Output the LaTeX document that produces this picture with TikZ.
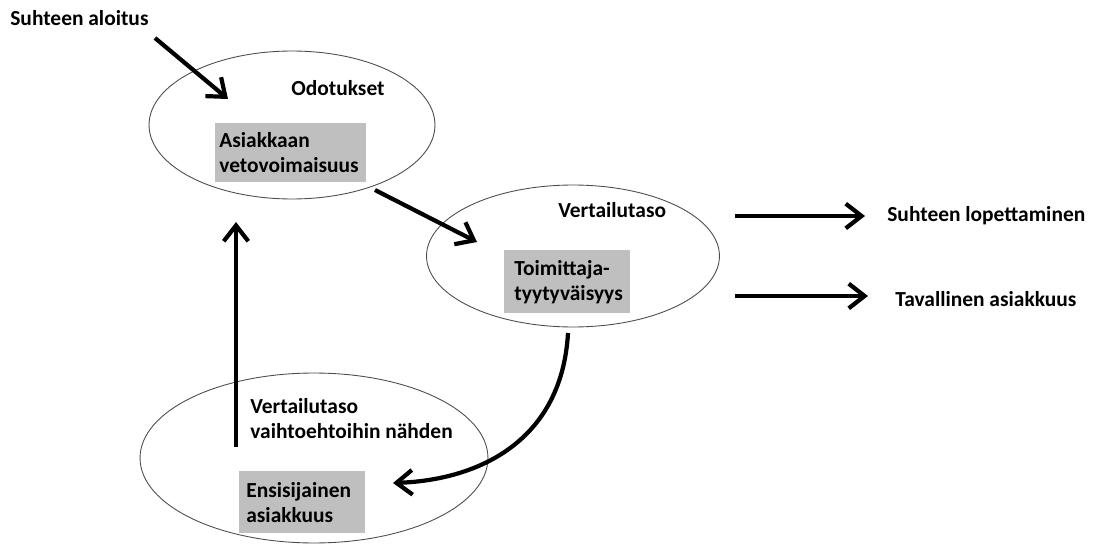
\documentclass[tikz,border=0pt]{standalone}
\usepackage{fontspec}
\setmainfont{Carlito}
\usetikzlibrary{shapes.geometric, arrows.meta}

\begin{document}
\begin{tikzpicture}[x=0.02cm, y=-0.02cm,
    every node/.style={font=\fontsize{12.2}{14.2}\selectfont\bfseries},
    oval/.style={draw=black!70, ellipse, line width=0.5pt, inner sep=0pt},
    greybox/.style={fill=black!25, align=left, anchor=north west, inner ysep=0pt},
    lbl/.style={anchor=west, inner sep=0pt, align=left},
    fat arrow/.style={line width=2.4pt,
        -{Straight Barb[length=9pt, width=14pt, line width=2.4pt]}}
  ]
  \useasboundingbox (0,0) rectangle (1093,544);

  % ovals
  \node[oval, minimum width=5.72cm, minimum height=2.96cm] (odotus) at (292,125) {};
  \node[oval, minimum width=5.86cm, minimum height=2.84cm] (vertailu) at (573,256) {};
  \node[oval, minimum width=6.96cm, minimum height=3.4cm] (vaihto) at (314,458) {};

  % grey boxes
  \node[greybox, inner xsep=0.08cm, text width=2.86cm, minimum height=1.18cm]
    (vetovoima) at (215,123) {Asiakkaan\\vetovoimaisuus};
  \node[greybox, inner xsep=0.2cm, text width=2.12cm, minimum height=1.26cm]
    (tyytyvaisyys) at (504,250) {Toimittaja-\\tyytyväisyys};
  \node[greybox, inner xsep=0.14cm, text width=2.24cm, minimum height=1.24cm]
    (ensisijainen) at (239,471) {Ensisijainen\\asiakkuus};

  % labels
  \node[lbl] (aloitus) at (10,18) {Suhteen aloitus};
  \node[lbl] (odotukset) at (291,88) {Odotukset};
  \node[lbl] (vtaso) at (558,210) {Vertailutaso};
  \node[lbl] (vtaso2) at (250,418.5) {Vertailutaso\\vaihtoehtoihin nähden};
  \node[lbl] (lopetus) at (887,216) {Suhteen lopettaminen};
  \node[lbl] (tavallinen) at (895,299) {Tavallinen asiakkuus};

  % arrow ends
  \coordinate (a1) at (155,38);
  \coordinate (a2) at (228,99);
  \coordinate (b1) at (375,190);
  \coordinate (b2) at (477,242);
  \coordinate (c1) at (236,447);
  \coordinate (c2) at (236,222);
  \coordinate (d1) at (568,333);
  \coordinate (d2) at (393,483);
  \coordinate (e1) at (735,216);
  \coordinate (e2) at (865,216);
  \coordinate (f1) at (735,296);
  \coordinate (f2) at (868,296);

  \draw[fat arrow] (a1) -- (a2);
  \draw[fat arrow] (b1) -- (b2);
  \draw[fat arrow] (c1) -- (c2);
  \draw[fat arrow] (d1) .. controls (562,440) and (480,480) .. (d2);
  \draw[fat arrow] (e1) -- (e2);
  \draw[fat arrow] (f1) -- (f2);
\end{tikzpicture}
\end{document}
